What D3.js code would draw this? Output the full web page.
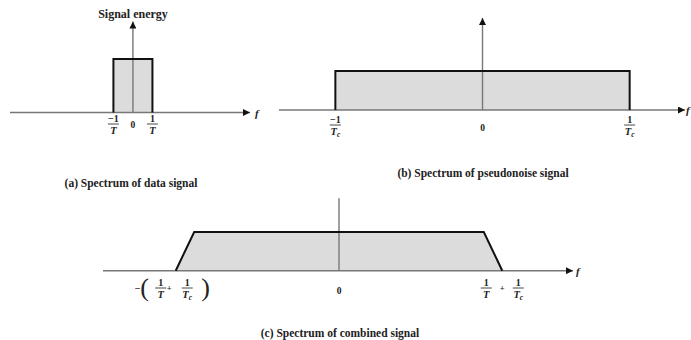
<!DOCTYPE html>
<html>
<head>
<meta charset="utf-8">
<script src="https://cdn.jsdelivr.net/npm/d3@7"></script>
<style>
body { margin: 0; background: #fff; }
svg text { font-family: "Liberation Serif", "DejaVu Serif", serif; font-weight: bold; fill: #222; }
</style>
</head>
<body>
<svg class="spectra"></svg>
<script>
// spectrum outlines (frequency in units of each panel's own band edge)
var dataFreq = [-1, -1, 1, 1];            // -1/T .. 1/T
var dataEnergy = [0, 1, 1, 0];
var pnFreq = [-1, -1, 1, 1];              // -1/Tc .. 1/Tc
var pnEnergy = [0, 1, 1, 0];
var comboFreq = [-1.06, -0.94, 0.94, 1.06];  // 1/Tc -+ 1/T
var comboEnergy = [0, 1, 1, 0];

// tick positions and labels
var dataTicks = [-1, 0, 1];
var dataTickLabels = [["−1", "T", ""], "0", ["1", "T", ""]];
var pnTicks = [-1, 0, 1];
var pnTickLabels = [["−1", "T", "c"], "0", ["1", "T", "c"]];
var comboTicks = [-1.06, 0, 1.06];
var comboTickLabels = ["neg", "0", "pos"];

var captions = ["(a) Spectrum of data signal",
                "(b) Spectrum of pseudonoise signal",
                "(c) Spectrum of combined signal"];

(function () {
  var svg = d3.select(".spectra")
      .attr("width", 691)
      .attr("height", 340);

  svg.append("defs").append("marker")
      .attr("id", "arrow")
      .attr("viewBox", "0 0 10 10")
      .attr("refX", 10)
      .attr("refY", 5)
      .attr("markerUnits", "userSpaceOnUse")
      .attr("markerWidth", 9)
      .attr("markerHeight", 7)
      .attr("orient", "auto")
    .append("path")
      .attr("d", "M0,0L10,5L0,10Z")
      .style("fill", "#111");

  var panels = [
    {freq: dataFreq, energy: dataEnergy, ticks: dataTicks, labels: dataTickLabels,
     x: d3.scaleLinear().domain([-6.3, 6.0]).range([10, 250]),
     y: d3.scaleLinear().domain([0, 1]).range([112.5, 59]),
     top: 1.7, arrowUp: true, barY: 124, zeroY: 128, fx: 255, caption: [131, 187]},
    {freq: pnFreq, energy: pnEnergy, ticks: pnTicks, labels: pnTickLabels,
     x: d3.scaleLinear().domain([-1.383, 1.376]).range([279, 685]),
     y: d3.scaleLinear().domain([0, 1]).range([110, 71]),
     top: 2.36, arrowUp: true, barY: 125, zeroY: 131, fx: 686, caption: [483, 177]},
    {freq: comboFreq, energy: comboEnergy, ticks: comboTicks, labels: comboTickLabels,
     x: d3.scaleLinear().domain([-1.532, 1.519]).range([103, 573]),
     y: d3.scaleLinear().domain([0, 1]).range([270.7, 232]),
     top: 1.87, arrowUp: false, barY: 288, zeroY: 294, fx: 576, caption: [340, 337]}
  ];

  panels.forEach(function(p, i) {
    var g = svg.append("g");
    var pts = p.freq.map(function(f, j) { return [f, p.energy[j]]; });
    var line = d3.line()
        .x(function(d) { return p.x(d[0]); })
        .y(function(d) { return p.y(d[1]); });

    g.append("path")
        .attr("d", line(pts) + "Z")
        .style("fill", "#dcdcdc")
        .style("stroke", "none");

    var x0 = p.x.range()[0], x1 = p.x.range()[1];
    g.append("line")
        .attr("x1", x0).attr("x2", x1)
        .attr("y1", p.y(0)).attr("y2", p.y(0))
        .attr("marker-end", "url(#arrow)")
        .style("stroke", "#777")
        .style("stroke-width", 1.4);

    g.append("line")
        .attr("x1", p.x(0)).attr("x2", p.x(0))
        .attr("y1", p.y(0)).attr("y2", p.y(p.top))
        .attr("marker-end", p.arrowUp ? "url(#arrow)" : null)
        .style("stroke", "#777")
        .style("stroke-width", 1.4);

    g.append("path")
        .attr("d", line(pts))
        .style("fill", "none")
        .style("stroke", "#111")
        .style("stroke-width", 2)
        .style("stroke-linejoin", "miter");

    g.append("text")
        .attr("x", p.fx)
        .attr("y", p.y(0) + 4)
        .style("font-size", "11px")
        .style("font-style", "italic")
        .text("f");

    p.ticks.forEach(function(t, j) {
      var lab = p.labels[j];
      var cx = p.x(t);
      if (lab === "0") {
        g.append("text")
            .attr("x", cx)
            .attr("y", p.zeroY)
            .attr("text-anchor", "middle")
            .style("font-size", "9.5px")
            .text("0");
      } else if (lab === "neg") {
        g.append("text").attr("x", cx - 38).attr("y", p.barY + 3.5)
            .attr("text-anchor", "middle").style("font-size", "10px").text("−");
        paren(g, cx - 31, p.barY, "(");
        frac(g, cx - 15, p.barY, "1", "T", "");
        g.append("text").attr("x", cx - 6.5).attr("y", p.barY + 3)
            .attr("text-anchor", "middle").style("font-size", "8.5px").text("+");
        frac(g, cx + 11.5, p.barY, "1", "T", "c");
        paren(g, cx + 30, p.barY, ")");
      } else if (lab === "pos") {
        frac(g, cx - 16, p.barY, "1", "T", "");
        g.append("text").attr("x", cx).attr("y", p.barY + 3)
            .attr("text-anchor", "middle").style("font-size", "8.5px").text("+");
        frac(g, cx + 16, p.barY, "1", "T", "c");
      } else {
        frac(g, cx, p.barY, lab[0], lab[1], lab[2]);
      }
    });

    svg.append("text")
        .attr("x", p.caption[0])
        .attr("y", p.caption[1])
        .attr("text-anchor", "middle")
        .style("font-size", "11.5px")
        .text(captions[i]);
  });

  svg.append("text")
      .attr("x", 133)
      .attr("y", 18)
      .attr("text-anchor", "middle")
      .style("font-size", "12px")
      .text("Signal energy");

  function frac(g, cx, yBar, num, den, sub) {
    g.append("text")
        .attr("x", cx)
        .attr("y", yBar - 1.8)
        .attr("text-anchor", "middle")
        .style("font-size", "10px")
        .text(num);
    g.append("line")
        .attr("x1", cx - 5.5).attr("x2", cx + 5.5)
        .attr("y1", yBar).attr("y2", yBar)
        .style("stroke", "#333")
        .style("stroke-width", 0.9);
    var d = g.append("text")
        .attr("x", cx)
        .attr("y", yBar + 9.5)
        .attr("text-anchor", "middle")
        .style("font-size", "10.5px")
        .style("font-style", "italic");
    d.append("tspan").text(den);
    if (sub) {
      d.append("tspan")
          .attr("dy", 2)
          .style("font-size", "7.5px")
          .text(sub);
    }
  }

  function paren(g, x, yBar, ch) {
    g.append("text")
        .attr("x", x)
        .attr("y", yBar + 8)
        .attr("text-anchor", "middle")
        .style("font-size", "26px")
        .style("font-weight", "normal")
        .text(ch);
  }
})();
</script>
</body>
</html>
